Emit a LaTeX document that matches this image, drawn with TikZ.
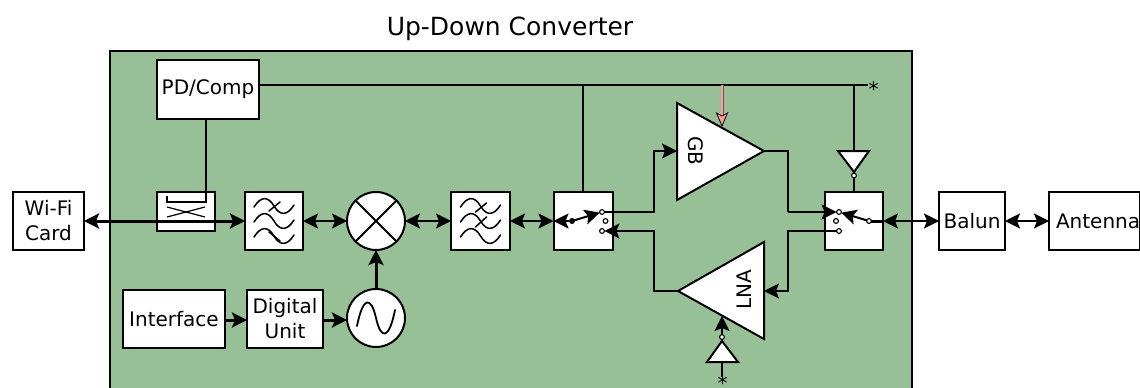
\documentclass[tikz,border=0pt]{standalone}
\usepackage{fontspec}
\setmainfont{DejaVu Sans}
\usetikzlibrary{arrows.meta,calc}
\definecolor{panel}{HTML}{97C097}
\definecolor{pinkarrow}{HTML}{FF9C9C}
\tikzset{
  x=1pt,y=-1pt,
  every node/.style={font=\fontsize{20}{25}\selectfont,inner sep=0pt,outer sep=0pt,align=center},
  blockbox/.style={draw=black,fill=white,line width=2pt,anchor=north west},
  roundblock/.style={draw=black,fill=white,line width=2pt,circle,minimum size=58pt},
  tri/.style={draw=black,fill=white,line width=2pt,line join=miter},
  contact/.style={draw=black,fill=white,line width=1.1pt,circle,minimum size=4.8pt},
  conn/.style={line width=2pt,draw=black},
  thick conn/.style={line width=3pt,draw=black},
  tip/.style={-{Stealth[length=15pt,width=15pt,inset=3pt]}},
  dtip/.style={{Stealth[length=15pt,width=15pt,inset=3pt]}-{Stealth[length=15pt,width=15pt,inset=3pt]}},
  star/.style={font=\fontsize{20}{20}\selectfont,anchor=base},
  icon/.style={line width=1.5pt,draw=black,line cap=round},
}
\newcommand{\filterwaves}[1]{%
  \begin{scope}[shift={(#1)}]
    \foreach \dy in {-15,0,15}{
      \draw[icon,shift={(0,\dy)}] (-20,1) .. controls (-13,-10) and (-6,-10) .. (0,0) .. controls (6,10) and (13,10) .. (20,-1);
    }
  \end{scope}}
\begin{document}
\begin{tikzpicture}
\useasboundingbox (0,0) rectangle (1140,388);
% panel
\fill[panel] (110,51) rectangle (912,388);
\draw[line width=2.6pt] (110,388) -- (110,51) -- (912,51) -- (912,388);
\node[font=\fontsize{25}{30}\selectfont] (title) at (510,29) {Up-Down Converter};

% blocks
\node[blockbox,minimum width=71pt,minimum height=58pt] (wifi) at (13,192) {Wi-Fi\\Card};
\node[blockbox,minimum width=102pt,minimum height=59pt] (pd) at (157,60) {PD/Comp};
\node[blockbox,minimum width=58pt,minimum height=39pt] (coupler) at (157,192) {};
\node[blockbox,minimum width=58pt,minimum height=58pt] (f1) at (245,192) {};
\node[roundblock] (mixer) at (376,221) {};
\node[blockbox,minimum width=59pt,minimum height=58pt] (f2) at (451,192) {};
\node[blockbox,minimum width=59pt,minimum height=58pt] (swl) at (553.5,192) {};
\node[blockbox,minimum width=58pt,minimum height=58pt] (swr) at (825,192) {};
\node[blockbox,minimum width=102pt,minimum height=58pt] (iface) at (123,290) {Interface};
\node[blockbox,minimum width=76pt,minimum height=58pt] (dig) at (247,290) {Digital\\Unit};
\node[roundblock] (osc) at (376,318) {};
\node[blockbox,minimum width=66pt,minimum height=58pt] (balun) at (939,192) {Balun};
\node[blockbox,minimum width=90pt,minimum height=58pt] (ant) at (1049,192) {\hspace*{7pt}Antenna};

% triangles
\coordinate (gbin) at (677,151);
\coordinate (gbout) at (764,151);
\coordinate (gbtop) at (722,126);
\draw[tri] (677,103) -- (764,151) -- (677,200) -- cycle;
\node[rotate=-90] (gblabel) at (696,151) {GB};
\coordinate (lnain) at (764,291);
\coordinate (lnaout) at (678,291);
\coordinate (lnabot) at (722,316);
\draw[tri] (764,242) -- (678,291) -- (764,339) -- cycle;
\node[rotate=90] (lnalabel) at (744,290) {LNA};
\draw[tri] (838,151) -- (869,151) -- (854,172) -- cycle;
\draw[tri] (707,362) -- (738,362) -- (722,341) -- cycle;

% filter icons
\filterwaves{f1.center}
\draw[icon] ($(f1.center)+(-5,-10)$) -- ($(f1.center)+(6,-19)$);
\draw[icon] ($(f1.center)+(-5,11)$) -- ($(f1.center)+(6,20)$);
\filterwaves{f2.center}
\draw[icon] ($(f2.center)+(-5,-9)$) -- ($(f2.center)+(6,-18)$);
\draw[icon] ($(f2.center)+(-5,6)$) -- ($(f2.center)+(6,-4)$);

% coupler icon
\draw[line width=2.8pt] (167,196) -- (167,202) -- (206,202) -- (206,119);
\draw[line width=1.2pt] (167,207) -- (205,217);
\draw[line width=1.2pt] (167,217) -- (205,207);

% mixer, oscillator icons
\draw[line width=2pt] ($(mixer)+(-20.5,-20.5)$) -- ($(mixer)+(20.5,20.5)$);
\draw[line width=2pt] ($(mixer)+(-20.5,20.5)$) -- ($(mixer)+(20.5,-20.5)$);
\draw[line width=1.8pt,line cap=round] ($(osc)+(-19,8)$) .. controls ($(osc)+(-13,-22)$) and ($(osc)+(-5,-22)$) .. ($(osc)+(0,0)$) .. controls ($(osc)+(5,22)$) and ($(osc)+(13,22)$) .. ($(osc)+(19,-8)$);

% control lines
\coordinate (star1) at (868,85);
\coordinate (junca) at (swl.north |- star1);
\coordinate (juncb) at (swr.north |- star1);
\coordinate (juncg) at (722,85);
\draw[conn] (pd.east |- star1) -- (star1);
\draw[conn] (junca) -- (swl.north);
\draw[conn] (juncb) -- (854,151);
\draw[line width=3pt,draw=black!65] (juncg) -- ($(gbtop)+(0,-10)$);
\draw[line width=2pt,draw=pinkarrow] (juncg) -- ($(gbtop)+(0,-10)$);
\draw[draw=black,fill=pinkarrow,line width=0.8pt] (gbtop) -- ($(gbtop)+(-5.5,-13)$) -- ($(gbtop)+(0,-10)$) -- ($(gbtop)+(5.5,-13)$) -- cycle;
\node[star] (s1) at (873.5,96.5) {*};
\node[star] (s2) at (722.5,390) {*};

% inverter bubbles
\node[contact] (bub1) at (854,175.5) {};
\draw[conn] (bub1) -- (swr.north);
\node[contact] (bub2) at (722,337) {};
\coordinate (bot) at (722,377);
\draw[conn] (722,362) -- (bot);
\draw[conn,tip] (bub2) -- (lnabot);

% signal path
\draw[thick conn,{Stealth[length=15pt,width=15pt,inset=3pt]}-{Stealth[length=15pt,width=15pt,inset=3pt]}] (wifi.east |- 0,221) -- (f1.west);
\draw[conn,dtip] (f1.east) -- (mixer.west);
\draw[conn,dtip] (mixer.east) -- (f2.west);
\draw[conn,dtip] (f2.east) -- (swl.west);

% switch contacts
\node[contact] (la) at (602,212) {};
\node[contact] (lb) at (605.5,221) {};
\node[contact] (lc) at (602,231) {};
\node[contact,fill=black] (lp) at (572,221) {};
\node[contact] (ra) at (839,212) {};
\node[contact] (rb) at (836,221) {};
\node[contact] (rc) at (839,231) {};
\node[contact] (rp) at (869,221) {};

\draw[conn,tip] (lp) -- (swl.west);
\draw[conn,tip] (lp) -- (la);
\draw[conn,tip] (la) -- (654,212) -- (654,151) -- (gbin);
\draw[conn] (gbout) -- (788,151) -- (788,212);
\draw[conn,tip] (788,212) -- (ra);
\draw[conn,tip] (rp) -- (ra);
\draw[thick conn] (rp) -- (swr.east);
\draw[conn,dtip] (swr.east) -- (balun.west);
\draw[conn,dtip] (balun.east) -- (ant.west);
\draw[conn,tip] (rc) -- (788,231) -- (788,291) -- (lnain);
\draw[conn,tip] (lnaout) -- (654,291) -- (654,231) -- (lc);
\draw[thick conn,tip] (iface.east |- 0,320) -- (dig.west |- 0,320);
\draw[thick conn,tip] (dig.east |- 0,320) -- (osc.west |- 0,320);
\draw[thick conn,tip] (osc.north) -- (mixer.south);
\end{tikzpicture}
\end{document}
